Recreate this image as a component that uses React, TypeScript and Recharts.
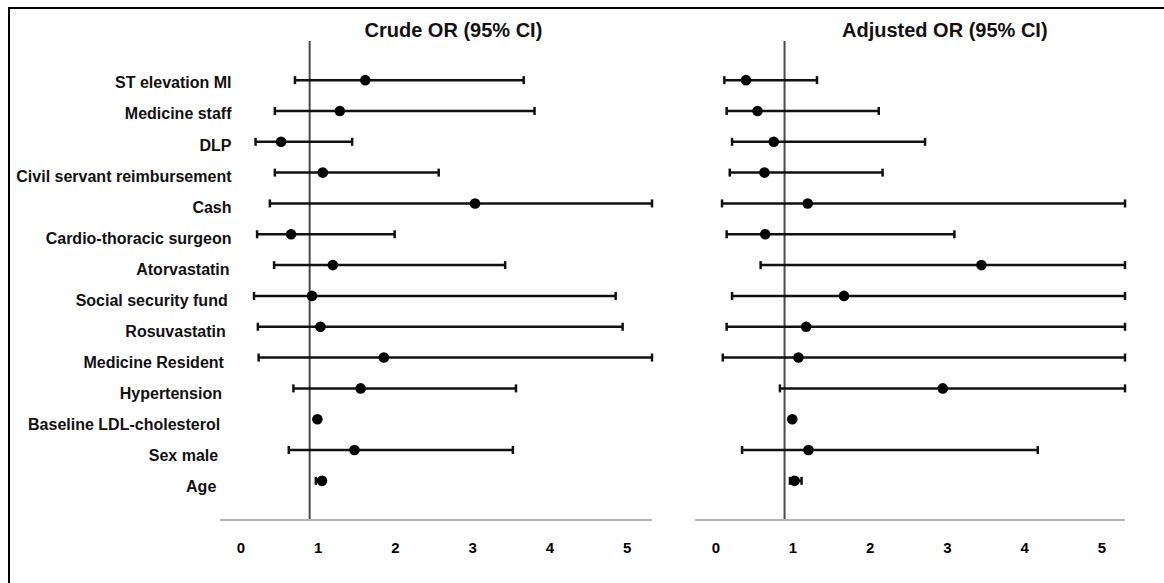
import React from 'react';
import { ScatterChart, Scatter, XAxis, YAxis, ErrorBar, ReferenceLine } from 'recharts';

const variables = [
  'ST elevation MI',
  'Medicine staff',
  'DLP',
  'Civil servant reimbursement',
  'Cash',
  'Cardio-thoracic surgeon',
  'Atorvastatin',
  'Social security fund',
  'Rosuvastatin',
  'Medicine Resident',
  'Hypertension',
  'Baseline LDL-cholesterol',
  'Sex male',
  'Age',
];

// crude odds ratios with 95% CI (upper bounds past the axis are shown at the axis end)
const crudeOR = [1.61, 1.28, 0.52, 1.06, 3.03, 0.65, 1.19, 0.92, 1.03, 1.85, 1.55, 0.99, 1.47, 1.05];
const crudeLow = [0.70, 0.44, 0.19, 0.44, 0.375, 0.21, 0.43, 0.17, 0.22, 0.23, 0.68, 0.99, 0.62, 0.97];
const crudeHigh = [3.66, 3.80, 1.44, 2.56, 5.32, 1.99, 3.42, 4.85, 4.94, 5.32, 3.56, 0.99, 3.52, 1.08];

// adjusted odds ratios with 95% CI
const adjOR = [0.39, 0.54, 0.75, 0.63, 1.19, 0.64, 3.44, 1.66, 1.17, 1.07, 2.94, 0.99, 1.20, 1.02];
const adjLow = [0.11, 0.14, 0.21, 0.18, 0.08, 0.14, 0.58, 0.21, 0.14, 0.09, 0.83, 0.99, 0.34, 0.96];
const adjHigh = [1.31, 2.11, 2.71, 2.16, 5.30, 3.09, 5.30, 5.30, 5.30, 5.30, 5.30, 0.99, 4.17, 1.11];

const xTicks = [0, 1, 2, 3, 4, 5];
const rowTicks = variables.map((_, i) => i);
const nullLine = 0.89;

const FONT = '"Liberation Sans", Arial, Helvetica, sans-serif';

function buildRows(or: number[], lo: number[], hi: number[]) {
  return variables.map((name, i) => ({
    name,
    row: i,
    or: or[i],
    err: [or[i] - lo[i], hi[i] - or[i]],
  }));
}

const crudeRows = buildRows(crudeOR, crudeLow, crudeHigh);
const adjRows = buildRows(adjOR, adjLow, adjHigh);

const Dot = (props: any) => {
  const { cx, cy } = props;
  if (cx == null || cy == null) return null;
  return <circle cx={cx} cy={cy} r={5.3} fill="#000" />;
};

const RowLabel = (props: any) => {
  const { y, payload } = props;
  const i = payload.value as number;
  const right = 231.5 - Math.max(0, i - 5) * 1.9;
  return (
    <text
      x={right}
      y={y + 2.8 + 0.22 * i}
      textAnchor="end"
      dominantBaseline="central"
      fontFamily={FONT}
      fontSize={16}
      fontWeight={700}
      fill="#111"
    >
      {variables[i]}
    </text>
  );
};

const AxisNumber = (props: any) => {
  const { x, payload } = props;
  return (
    <text
      x={x}
      y={547}
      textAnchor="middle"
      dominantBaseline="central"
      fontFamily={FONT}
      fontSize={15}
      fontWeight={700}
      fill="#000"
    >
      {payload.value}
    </text>
  );
};

const CHART_H = 583;
const MARGIN_TOP = 41;

interface PanelProps {
  data: any[];
  xMax: number;
  width: number;
  left: number;
  right: number;
  showLabels: boolean;
}

const Panel: React.FC<PanelProps> = ({ data, xMax, width, left, right, showLabels }) => (
  <ScatterChart
    width={width}
    height={CHART_H}
    margin={{ top: MARGIN_TOP, right, left: showLabels ? 0 : left, bottom: 23 }}
  >
    <XAxis
      type="number"
      dataKey="or"
      domain={[-0.27, xMax]}
      ticks={xTicks}
      height={40}
      axisLine={{ stroke: '#b3b3b3', strokeWidth: 2 }}
      tickLine={false}
      tickSize={0}
      tick={<AxisNumber />}
    />
    <YAxis
      type="number"
      dataKey="row"
      domain={[-1.27, 14.27]}
      ticks={rowTicks}
      reversed
      hide={!showLabels}
      width={showLabels ? left : 0}
      axisLine={false}
      tickLine={false}
      tickSize={0}
      tickMargin={0}
      interval={0}
      tick={<RowLabel />}
    />
    <ReferenceLine x={nullLine} stroke="#4a4a4a" strokeWidth={2} />
    <Scatter data={data} shape={<Dot />} isAnimationActive={false}>
      <ErrorBar dataKey="err" direction="x" width={4} stroke="#111" strokeWidth={2.5} isAnimationActive={false} />
    </Scatter>
  </ScatterChart>
);

export default function App() {
  return (
    <div
      style={{
        position: 'relative',
        width: 1164,
        height: 583,
        overflow: 'hidden',
        background: '#fff',
        fontFamily: FONT,
      }}
    >
      <style>{'html,body{margin:0 !important;padding:0;overflow:hidden}'}</style>
      <div style={{ position: 'absolute', left: 0, top: 0 }}>
        <Panel data={crudeRows} xMax={5.32} width={660} left={220} right={8} showLabels />
      </div>
      <div style={{ position: 'absolute', left: 660, top: 0 }}>
        <Panel data={adjRows} xMax={5.3} width={504} left={35} right={39} showLabels={false} />
      </div>
      <svg width={1164} height={583} style={{ position: 'absolute', left: 0, top: 0, pointerEvents: 'none' }}>
        <path d="M9 583 L9 8 L1164 8" fill="none" stroke="#000" strokeWidth={2} />
        <text x={453.4} y={36.7} textAnchor="middle" fontFamily={FONT} fontSize={20} fontWeight={700} fill="#111">
          Crude OR (95% CI)
        </text>
        <text x={944.8} y={36.7} textAnchor="middle" fontFamily={FONT} fontSize={20} fontWeight={700} fill="#111">
          Adjusted OR (95% CI)
        </text>
      </svg>
    </div>
  );
}
